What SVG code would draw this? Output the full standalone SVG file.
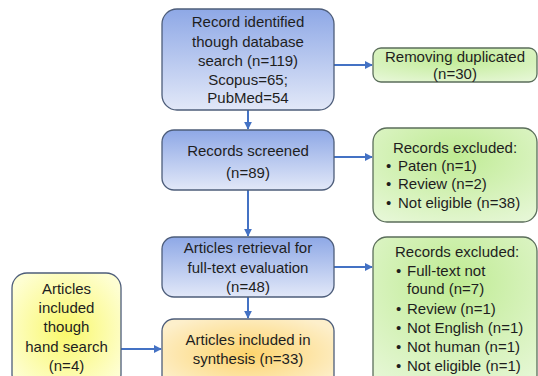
<svg xmlns="http://www.w3.org/2000/svg" width="538" height="376" viewBox="0 0 538 376">
<defs>
<linearGradient id="gBlue" x1="0" y1="0" x2="0" y2="1">
<stop offset="0" stop-color="#8ea8e6"/>
<stop offset="1" stop-color="#e2e8f8"/>
</linearGradient>
<radialGradient id="gGreen" cx="0.5" cy="0.3" r="0.8">
<stop offset="0" stop-color="#bfeb93"/>
<stop offset="1" stop-color="#e6f7d6"/>
</radialGradient>
<radialGradient id="gOrange" cx="0.5" cy="0.5" r="0.6">
<stop offset="0" stop-color="#fdd46c"/>
<stop offset="1" stop-color="#fdefcb"/>
</radialGradient>
<radialGradient id="gYellow" cx="0.5" cy="0.5" r="0.6">
<stop offset="0" stop-color="#f9f86a"/>
<stop offset="1" stop-color="#fefed2"/>
</radialGradient>
<marker id="arr" viewBox="0 0 10 10" refX="9" refY="5" markerWidth="4" markerHeight="4" orient="auto" markerUnits="strokeWidth">
<path d="M0,0 L10,5 L0,10 Z" fill="#4472c4"/>
</marker>
</defs>
<style>
.box{stroke:#4d5d7a;stroke-width:1.3}
.gbox{stroke:#5b6e5b;stroke-width:1.3}
text{font-family:"Liberation Sans",Arial,sans-serif;font-size:15px;fill:#1e1e1e}
.c{text-anchor:middle}
.con{stroke:#4472c4;stroke-width:2;fill:none;marker-end:url(#arr)}
</style>
<rect width="538" height="376" fill="#ffffff"/>
<g id="connectors">
<line class="con" x1="248" y1="110" x2="248" y2="129"/>
<line class="con" x1="248" y1="190" x2="248" y2="236"/>
<line class="con" x1="248" y1="297" x2="248" y2="318"/>
<line class="con" x1="334" y1="65" x2="372" y2="65"/>
<line class="con" x1="334" y1="157" x2="372" y2="157"/>
<line class="con" x1="334" y1="267" x2="372" y2="267"/>
<line class="con" x1="121" y1="349" x2="161" y2="349"/>
</g>
<g id="identified">
<rect class="box" x="162" y="9" width="172" height="101" rx="15" fill="url(#gBlue)"/>
<text class="c" x="248" y="27">Record identified</text>
<text class="c" x="248" y="47">though database</text>
<text class="c" x="248" y="66">search (n=119)</text>
<text class="c" x="248" y="85">Scopus=65;</text>
<text class="c" x="248" y="103">PubMed=54</text>
</g>
<g id="screened">
<rect class="box" x="162" y="130" width="172" height="60" rx="12" fill="url(#gBlue)"/>
<text class="c" x="248" y="156">Records screened</text>
<text class="c" x="248" y="178">(n=89)</text>
</g>
<g id="retrieval">
<rect class="box" x="162" y="237" width="172" height="60" rx="12" fill="url(#gBlue)"/>
<text class="c" x="248" y="253">Articles retrieval for</text>
<text class="c" x="248" y="273">full-text evaluation</text>
<text class="c" x="248" y="292">(n=48)</text>
</g>
<g id="synthesis">
<rect class="box" x="162" y="319" width="172" height="70" rx="12" fill="url(#gOrange)"/>
<text class="c" x="248" y="345">Articles included in</text>
<text class="c" x="248" y="364">synthesis (n=33)</text>
</g>
<g id="hand">
<rect class="box" x="12" y="273" width="109" height="116" rx="15" fill="url(#gYellow)"/>
<text class="c" x="66.5" y="294">Articles</text>
<text class="c" x="66.5" y="313">included</text>
<text class="c" x="66.5" y="332">though</text>
<text class="c" x="66.5" y="352">hand search</text>
<text class="c" x="66.5" y="371">(n=4)</text>
</g>
<g id="duplicated">
<rect class="gbox" x="373" y="48" width="164" height="34" rx="8" fill="url(#gGreen)"/>
<text class="c" x="455" y="62">Removing duplicated</text>
<text class="c" x="455" y="79">(n=30)</text>
</g>
<g id="excluded1">
<rect class="gbox" x="373" y="128" width="164" height="94" rx="14" fill="url(#gGreen)"/>
<text class="c" x="455" y="153">Records excluded:</text>
<text x="386" y="171">•</text><text x="398" y="171">Paten (n=1)</text>
<text x="386" y="189">•</text><text x="398" y="189">Review (n=2)</text>
<text x="386" y="208">•</text><text x="398" y="208">Not eligible (n=38)</text>
</g>
<g id="excluded2">
<rect class="gbox" x="373" y="237" width="164" height="152" rx="14" fill="url(#gGreen)"/>
<text x="395" y="257">Records excluded:</text>
<text x="396" y="276">•</text><text x="407" y="276">Full-text not</text>
<text x="407" y="294">found (n=7)</text>
<text x="396" y="314">•</text><text x="407" y="314">Review (n=1)</text>
<text x="396" y="333">•</text><text x="407" y="333">Not English (n=1)</text>
<text x="396" y="352">•</text><text x="407" y="352">Not human (n=1)</text>
<text x="396" y="371">•</text><text x="407" y="371">Not eligible (n=1)</text>
</g>
</svg>
